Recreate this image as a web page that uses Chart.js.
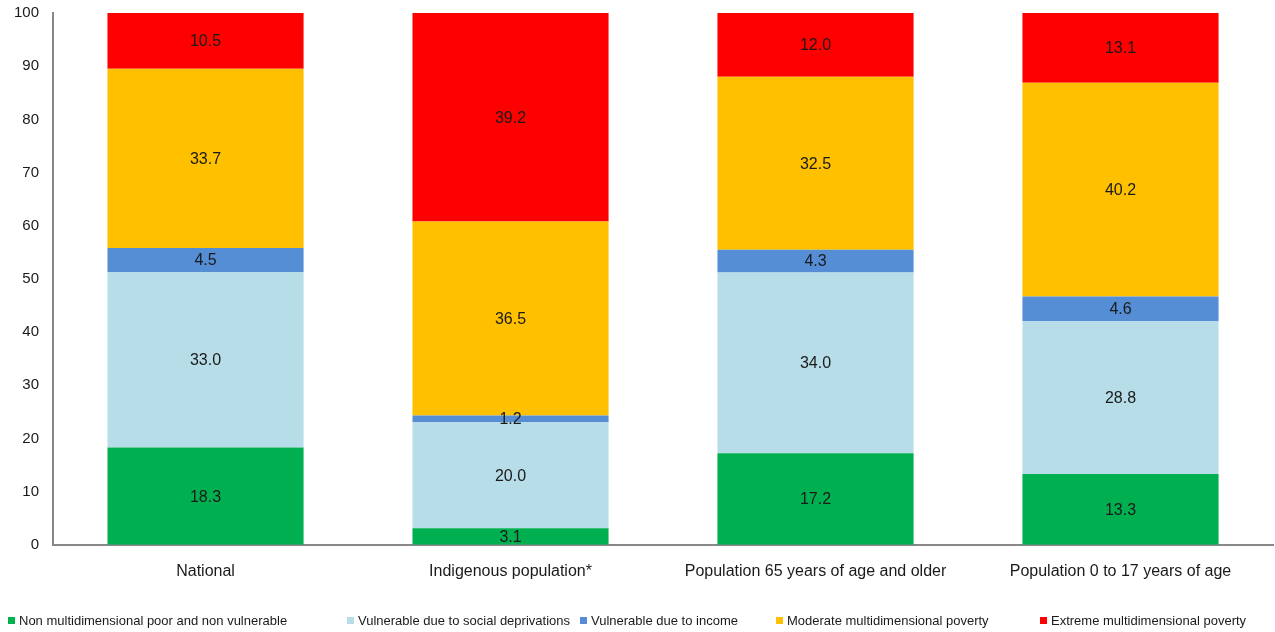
<!DOCTYPE html>
<html>
<head>
<meta charset="utf-8">
<script src="https://cdn.jsdelivr.net/npm/chart.js@4"></script>
<style>
html,body{margin:0;padding:0;background:#fff;}
#wrap{width:1275px;height:632px;position:relative;}
</style>
</head>
<body>
<div id="wrap"><canvas id="c" width="1275" height="632"></canvas></div>
<script>
const categories = ["National", "Indigenous population*", "Population 65 years of age and older", "Population 0 to 17 years of age"];
const seriesNames = ["Non multidimensional poor and non vulnerable", "Vulnerable due to social deprivations", "Vulnerable due to income", "Moderate multidimensional poverty", "Extreme multidimensional poverty"];
const nonPoor = [18.3, 3.1, 17.2, 13.3];
const vulnSocial = [33.0, 20.0, 34.0, 28.8];
const vulnIncome = [4.5, 1.2, 4.3, 4.6];
const moderate = [33.7, 36.5, 32.5, 40.2];
const extreme = [10.5, 39.2, 12.0, 13.1];
const yTicks = [0, 10, 20, 30, 40, 50, 60, 70, 80, 90, 100];

const colors = ["#00B050", "#B7DDE8", "#558ED5", "#FFC000", "#FF0000"];
const seriesData = [nonPoor, vulnSocial, vulnIncome, moderate, extreme];
const FONT = "'Liberation Sans', Arial, sans-serif";

const labelPlugin = {
  id: 'barLabels',
  afterDatasetsDraw(chart) {
    const ctx = chart.ctx;
    ctx.save();
    ctx.font = "16px " + FONT;
    ctx.fillStyle = "#1a1a1a";
    ctx.textAlign = "center";
    ctx.textBaseline = "middle";
    chart.data.datasets.forEach((ds, di) => {
      const meta = chart.getDatasetMeta(di);
      meta.data.forEach((bar, i) => {
        const v = ds.data[i];
        const cy = (bar.y + bar.base) / 2;
        ctx.fillText(v.toFixed(1), bar.x, cy + 1);
      });
    });
    ctx.restore();
  }
};

const legendPlugin = {
  id: 'customLegend',
  afterDraw(chart) {
    const ctx = chart.ctx;
    const xs = [8, 347, 580, 776, 1040];
    const y = 621;
    ctx.save();
    ctx.font = "13px " + FONT;
    ctx.textBaseline = "middle";
    ctx.textAlign = "left";
    seriesNames.forEach((n, i) => {
      ctx.fillStyle = colors[i];
      ctx.fillRect(xs[i], y - 4, 7, 7);
      ctx.fillStyle = "#1a1a1a";
      ctx.fillText(n, xs[i] + 11, y);
    });
    ctx.restore();
  }
};

new Chart(document.getElementById('c'), {
  type: 'bar',
  data: {
    labels: categories,
    datasets: seriesNames.map((n, i) => ({
      label: n,
      data: seriesData[i],
      backgroundColor: colors[i],
      borderWidth: 0,
      barPercentage: 0.643,
      categoryPercentage: 1.0
    }))
  },
  options: {
    responsive: false,
    animation: false,
    layout: { padding: { top: 13, right: 2, bottom: 34, left: 0 } },
    plugins: { legend: { display: false }, tooltip: { enabled: false } },
    scales: {
      x: {
        stacked: true,
        grid: { display: false, drawTicks: false },
        border: { display: true, color: '#888888', width: 2 },
        ticks: { color: '#1a1a1a', font: { family: FONT, size: 16 }, padding: 17, maxRotation: 0 },
        afterFit: (s) => { s.paddingLeft = 0; s.paddingRight = 0; }
      },
      y: {
        stacked: true,
        min: 0, max: 100,
        afterBuildTicks: (axis) => { axis.ticks = yTicks.map(v => ({ value: v })); },
        grid: { display: false, drawTicks: false },
        border: { display: true, color: '#888888', width: 2 },
        ticks: { color: '#1a1a1a', font: { family: FONT, size: 15 }, padding: 14 },
        afterFit: (s) => { s.paddingTop = 0; s.paddingBottom = 0; }
      }
    }
  },
  plugins: [labelPlugin, legendPlugin]
});
</script>
</body>
</html>
